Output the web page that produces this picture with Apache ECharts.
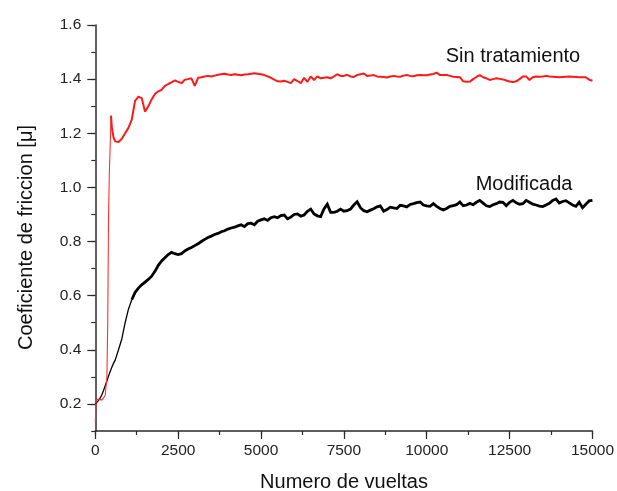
<!DOCTYPE html>
<html>
<head>
<meta charset="utf-8">
<script src="https://cdn.jsdelivr.net/npm/echarts@6/dist/echarts.min.js"></script>
<style>html,body{margin:0;padding:0;background:#fff}#c{width:617px;height:491px}</style>
</head>
<body>
<div id="c"></div>
<script>
const vueltas = [0,25,50,100,150,200,250,300,350,375,400,425,450,475,500,550,600,
  700,800,900,
  1000,1100,1200,1300,1400,1500,1600,1700,1800,1900,
  2000,2100,2200,2300,2400,2500,2600,2700,2800,2900,
  3000,3100,3200,3300,3400,3500,3600,3700,3800,3900,
  4000,4100,4200,4300,4400,4500,4600,4700,4800,4900,
  5000,5100,5200,5300,5400,5500,5600,5700,5800,5900,
  6000,6100,6200,6300,6400,6500,6600,6700,6800,6900,
  7000,7100,7200,7300,7400,7500,7600,7700,7800,7900,
  8000,8100,8200,8300,8400,8500,8600,8700,8800,8900,
  9000,9100,9200,9300,9400,9500,9600,9700,9800,9900,
  10000,10100,10200,10300,10400,10500,10600,10700,10800,10900,
  11000,11100,11200,11300,11400,11500,11600,11700,11800,11900,
  12000,12100,12200,12300,12400,12500,12600,12700,12800,12900,
  13000,13100,13200,13300,13400,13500,13600,13700,13800,13900,
  14000,14100,14200,14300,14400,14500,14600,14700,14800,14900,
  15000];

const modificada = [0.20,0.203,0.207,0.213,0.222,0.235,0.25,0.268,0.285,0.294,0.303,0.312,0.32,0.328,0.336,0.35,0.362,
  0.40,0.44,0.50,
  0.55,0.585,0.612,0.628,0.64,0.65,0.66,0.672,0.69,0.712,
  0.728,0.74,0.752,0.76,0.755,0.752,0.755,0.765,0.772,0.778,
  0.785,0.792,0.80,0.808,0.815,0.82,0.826,0.83,0.836,0.84,
  0.846,0.85,0.853,0.858,0.862,0.855,0.866,0.868,0.862,0.875,
  0.88,0.884,0.878,0.888,0.892,0.888,0.896,0.898,0.884,0.89,
  0.90,0.902,0.894,0.898,0.912,0.92,0.902,0.895,0.892,0.92,
  0.938,0.908,0.908,0.912,0.92,0.912,0.914,0.92,0.935,0.947,
  0.925,0.914,0.91,0.916,0.921,0.928,0.932,0.912,0.918,0.927,
  0.924,0.922,0.934,0.932,0.928,0.937,0.94,0.944,0.946,0.935,
  0.932,0.93,0.94,0.93,0.922,0.917,0.922,0.93,0.933,0.936,
  0.946,0.932,0.935,0.941,0.936,0.945,0.952,0.942,0.932,0.929,
  0.936,0.94,0.946,0.945,0.932,0.945,0.952,0.943,0.938,0.94,
  0.952,0.945,0.938,0.935,0.931,0.929,0.935,0.941,0.952,0.957,
  0.942,0.948,0.951,0.943,0.935,0.93,0.945,0.925,0.938,0.95,
  0.952];

const sinTratamiento = [0.13,0.215,0.222,0.218,0.215,0.214,0.217,0.232,0.30,0.50,0.90,1.06,1.16,1.265,1.22,1.185,1.17,
  1.168,1.18,1.20,
  1.22,1.25,1.32,1.335,1.33,1.28,1.30,1.325,1.345,1.355,
  1.36,1.375,1.382,1.388,1.395,1.39,1.385,1.398,1.40,1.403,
  1.375,1.405,1.407,1.41,1.412,1.41,1.413,1.416,1.418,1.42,
  1.417,1.415,1.418,1.416,1.414,1.417,1.418,1.42,1.422,1.42,
  1.418,1.415,1.41,1.405,1.398,1.392,1.391,1.394,1.39,1.385,
  1.40,1.393,1.385,1.405,1.39,1.41,1.397,1.41,1.403,1.405,
  1.407,1.403,1.41,1.418,1.412,1.412,1.416,1.41,1.408,1.415,
  1.418,1.421,1.412,1.413,1.415,1.41,1.409,1.408,1.406,1.41,
  1.412,1.41,1.409,1.413,1.415,1.412,1.411,1.414,1.415,1.414,
  1.414,1.417,1.419,1.424,1.415,1.415,1.415,1.412,1.409,1.408,
  1.407,1.392,1.39,1.391,1.40,1.408,1.415,1.407,1.403,1.397,
  1.40,1.403,1.401,1.399,1.395,1.391,1.389,1.392,1.40,1.41,
  1.41,1.397,1.407,1.41,1.409,1.41,1.412,1.41,1.409,1.408,
  1.407,1.408,1.409,1.41,1.409,1.408,1.407,1.407,1.407,1.398,
  1.394];

const yTickValues = [0.2,0.4,0.6,0.8,1.0,1.2,1.4,1.6];
const xTitle = 'Numero de vueltas';
const yTitle = 'Coeficiente de friccion [\u03BC]';
const seriesNames = ['Modificada','Sin tratamiento'];

const chart = echarts.init(document.getElementById('c'), null, {renderer:'canvas'});
const FONT = 'Liberation Sans, Arial, sans-serif';
const AX = '#2a2a2a';
const pairs = (ys, from, to) => vueltas.map((x,i)=>[x, ys[i]]).slice(from, to);
// index where the trace becomes a noisy band (thicker)
const iBlack = vueltas.indexOf(1100);
const iRed = vueltas.indexOf(475);

chart.setOption({
  animation:false,
  backgroundColor:'#fff',
  grid:{left:95.3, right:24.3, top:25, bottom:60, containLabel:false},
  xAxis:[
    {type:'value', min:0, max:15000, interval:1250, position:'bottom',
     axisLine:{show:true, lineStyle:{color:AX, width:1.5}},
     axisTick:{show:true, length:4, lineStyle:{color:AX, width:1.2}},
     axisLabel:{show:false}, splitLine:{show:false}},
    {type:'value', min:0, max:15000, interval:2500, position:'bottom',
     axisLine:{show:false},
     axisTick:{show:true, length:8, lineStyle:{color:AX, width:1.2}},
     axisLabel:{show:true, margin:12, fontSize:15.5, fontFamily:FONT, color:'#222',
       formatter:(v)=>String(Math.round(v))},
     splitLine:{show:false}}
  ],
  yAxis:[
    {type:'value', min:0.1, max:1.6, interval:0.1, position:'left',
     axisLine:{show:true, lineStyle:{color:AX, width:1.5}},
     axisTick:{show:true, length:4, lineStyle:{color:AX, width:1.2}},
     axisLabel:{show:false}, splitLine:{show:false}},
    {type:'value', min:0.1, max:1.6, position:'left',
     axisLine:{show:false},
     axisTick:{show:true, length:8, customValues:yTickValues, lineStyle:{color:AX, width:1.2}},
     axisLabel:{show:true, customValues:yTickValues, margin:14, fontSize:15.5, fontFamily:FONT, color:'#222',
       formatter:(v)=>Number(v).toFixed(1)},
     splitLine:{show:false}}
  ],
  series:[
    {name:seriesNames[0], type:'line', xAxisIndex:0, yAxisIndex:0, data:pairs(modificada, 0, iBlack+1),
     showSymbol:false, symbol:'none', lineStyle:{color:'#000', width:1.3}, z:2},
    {name:seriesNames[0], type:'line', xAxisIndex:0, yAxisIndex:0, data:pairs(modificada, iBlack),
     showSymbol:false, symbol:'none', lineStyle:{color:'#000', width:2.8, join:'miter'}, z:2},
    {name:seriesNames[1], type:'line', xAxisIndex:0, yAxisIndex:0, data:pairs(sinTratamiento, 0, iRed+1),
     showSymbol:false, symbol:'none', lineStyle:{color:'#ff3030', width:1.1}, z:3},
    {name:seriesNames[1], type:'line', xAxisIndex:0, yAxisIndex:0, data:pairs(sinTratamiento, iRed),
     showSymbol:false, symbol:'none', lineStyle:{color:'#ff1a1a', width:2}, z:3}
  ],
  graphic:[
    {type:'text', left:445.7, top:46, style:{text:seriesNames[1], font:'20px '+FONT, fill:'#111'}},
    {type:'text', left:475.7, top:174, style:{text:seriesNames[0], font:'20px '+FONT, fill:'#111'}},
    {type:'text', x:344, y:482, style:{text:xTitle, font:'20px '+FONT, fill:'#111', align:'center', verticalAlign:'middle'}},
    {type:'text', x:26, y:237.5, rotation:Math.PI/2, style:{text:yTitle, font:'20px '+FONT, fill:'#111', align:'center', verticalAlign:'middle'}}
  ]
});
</script>
</body>
</html>
